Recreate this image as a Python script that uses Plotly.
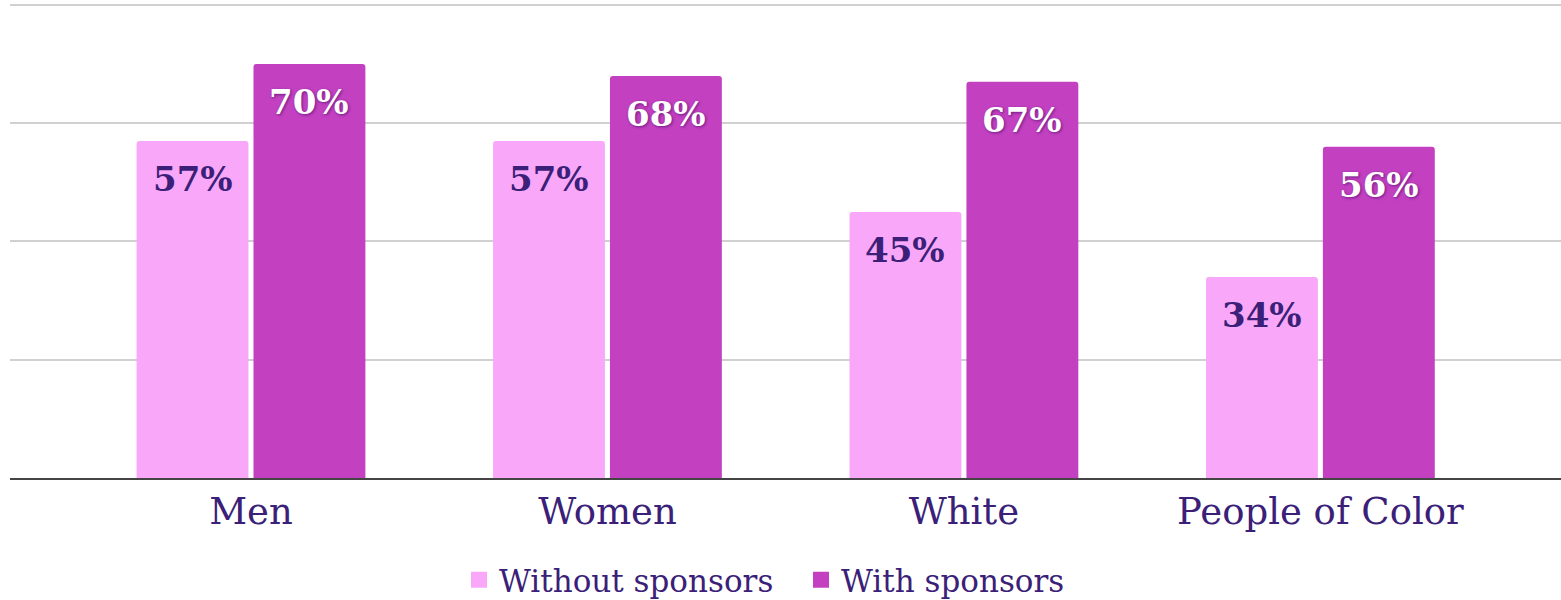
import plotly.graph_objects as go

categories = ["Men", "Women", "White", "People of Color"]
without_sponsors = [57, 57, 45, 34]
with_sponsors = [70, 68, 67, 56]
series_names = ["Without sponsors", "With sponsors"]

LIGHT = "#F9A8F9"
DARK = "#C341C0"
TEXT = "#3B1F78"
FONT = "DejaVu Serif"

fig = go.Figure()
fig.add_trace(go.Bar(x=categories, y=without_sponsors, name=series_names[0], showlegend=False,
                     marker=dict(color=LIGHT, line=dict(width=0))))
fig.add_trace(go.Bar(x=categories, y=with_sponsors, name=series_names[1], showlegend=False,
                     marker=dict(color=DARK, line=dict(width=0))))
# legend entries with larger square swatches
for name, col in zip(series_names, [LIGHT, DARK]):
    fig.add_trace(go.Scatter(x=[None], y=[None], mode="markers", name=name,
                             marker=dict(symbol="square", size=20, color=col)))

offset = 0.164
for i, v in enumerate(without_sponsors):
    fig.add_annotation(x=i - offset, y=v, yshift=-38, text=f"{v}%", showarrow=False,
                       font=dict(family=FONT, size=34, color=TEXT, weight="bold"))
for i, v in enumerate(with_sponsors):
    fig.add_annotation(x=i + offset, y=v, yshift=-38, text=f"{v}%", showarrow=False,
                       font=dict(family=FONT, size=34, color="white", weight="bold",
                                 shadow="1px 1px 3px #6a1a80"))

fig.update_layout(
    width=1561, height=600,
    margin=dict(l=10, r=0, t=2, b=122),
    paper_bgcolor="white", plot_bgcolor="white",
    barmode="group", bargap=0.344, bargroupgap=0.043,
    barcornerradius=3,
    font=dict(family=FONT, color=TEXT),
    showlegend=True,
    legend=dict(orientation="h", x=0.510, xanchor="center", xref="paper",
                y=0.033, yanchor="middle", yref="container",
                font=dict(family=FONT, size=31, color=TEXT), traceorder="normal",
                itemsizing="trace", entrywidth=297, entrywidthmode="pixels"),
    xaxis=dict(type="category", categoryorder="array", categoryarray=categories,
               range=[-0.676, 3.675], showgrid=False,
               showline=True, linecolor="#444444", linewidth=2,
               tickfont=dict(family=FONT, size=37, color=TEXT), ticks=""),
    yaxis=dict(range=[0, 80.5], tickvals=[0, 20, 40, 60, 80], showgrid=True,
               gridcolor="#D0D0D0", gridwidth=2,
               zeroline=False, showticklabels=False, showline=False),
)

fig.write_html("out.html", config={"displayModeBar": False},
               post_script="document.body.style.margin='0';")
